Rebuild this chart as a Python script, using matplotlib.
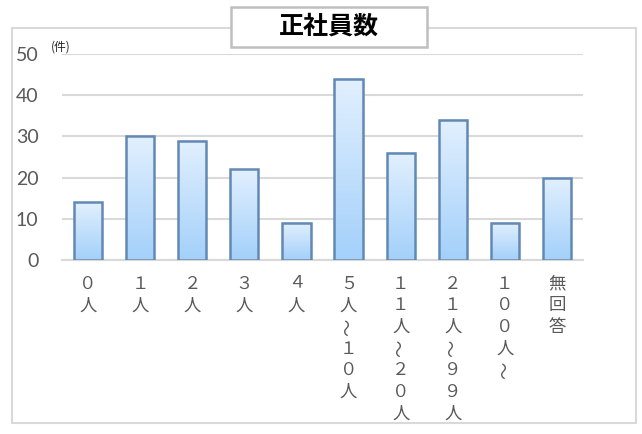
import numpy as np
import matplotlib
matplotlib.use("Agg")
import matplotlib.pyplot as plt
from matplotlib.colors import LinearSegmentedColormap
from matplotlib.patches import Rectangle

plt.rcParams['font.family'] = ['Noto Sans CJK JP', 'DejaVu Sans']

title = "正社員数"
unit_label = "(件)"
categories = ["０人", "１人", "２人", "３人", "４人", "５人～１０人",
              "１１人～２０人", "２１人～９９人", "１００人～", "無回答"]
counts = [14, 30, 29, 22, 9, 44, 26, 34, 9, 20]
y_ticks = [0, 10, 20, 30, 40, 50]

GREY_TXT = "#595959"
GRID = "#d9d9d9"
EDGE = "#6289b4"
grad = LinearSegmentedColormap.from_list("bar", ["#a3d0fa", "#e2f0fe"])

fig = plt.figure(figsize=(6.42, 4.34), dpi=100)

# outer chart frame
fig.add_artist(Rectangle((12 / 642, 1 - 423 / 434), (636 - 12) / 642, (423 - 28) / 434,
                         transform=fig.transFigure, fill=False, edgecolor=GRID, lw=1.5))

ax = fig.add_axes([62 / 642, 1 - 260 / 434, (583 - 62) / 642, (260 - 54) / 434])
x = np.arange(len(categories))
bars = ax.bar(x, counts, width=0.54, facecolor="none", edgecolor=EDGE, linewidth=1.8, zorder=3)

g = np.linspace(0, 1, 256).reshape(-1, 1)
for b in bars:
    x0, y0 = b.get_x(), b.get_y()
    ax.imshow(g, cmap=grad, origin="lower", aspect="auto", zorder=2,
              extent=(x0, x0 + b.get_width(), y0, y0 + b.get_height()))

ax.set_xlim(-0.5, len(categories) - 0.5)
ax.set_ylim(0, 50)
ax.set_yticks(y_ticks)
ax.set_yticklabels([str(v) for v in y_ticks], fontfamily="Lato", fontsize=14, color=GREY_TXT)
ax.tick_params(axis="y", length=0, pad=17)
ax.set_xticks([])
ax.grid(axis="y", color=GRID, lw=1.5, zorder=0)
ax.set_axisbelow(True)
for s in ["top", "right", "left"]:
    ax.spines[s].set_visible(False)
ax.spines["bottom"].set_color(GRID)
ax.spines["bottom"].set_linewidth(1.5)

# vertical category labels, one character per line
pitch = 15.6
for i, lab in enumerate(categories):
    for k, ch in enumerate(lab):
        ax.annotate(ch, xy=(i, 0), xycoords=("data", "axes fraction"),
                    xytext=(0, -17 - k * pitch), textcoords="offset points",
                    ha="center", va="center", fontsize=12.5, color=GREY_TXT,
                    rotation=90 if ch == "～" else 0, annotation_clip=False)

ax.annotate(unit_label, xy=(0, 1), xycoords="axes fraction", xytext=(-8, 0),
            textcoords="offset points", ha="left", va="bottom", fontsize=8.5, color="#222222")

# title box
fig.add_artist(Rectangle((231 / 642, 1 - 47 / 434), (427 - 231) / 642, (47 - 7) / 434,
                         transform=fig.transFigure, facecolor="white", edgecolor="#bfbfbf", lw=1.8,
                         zorder=5))
fig.text(329 / 642, 1 - 27 / 434, title, ha="center", va="center", fontsize=18,
         fontweight="bold", color="black", zorder=6)

fig.savefig("out.png", dpi=100)
